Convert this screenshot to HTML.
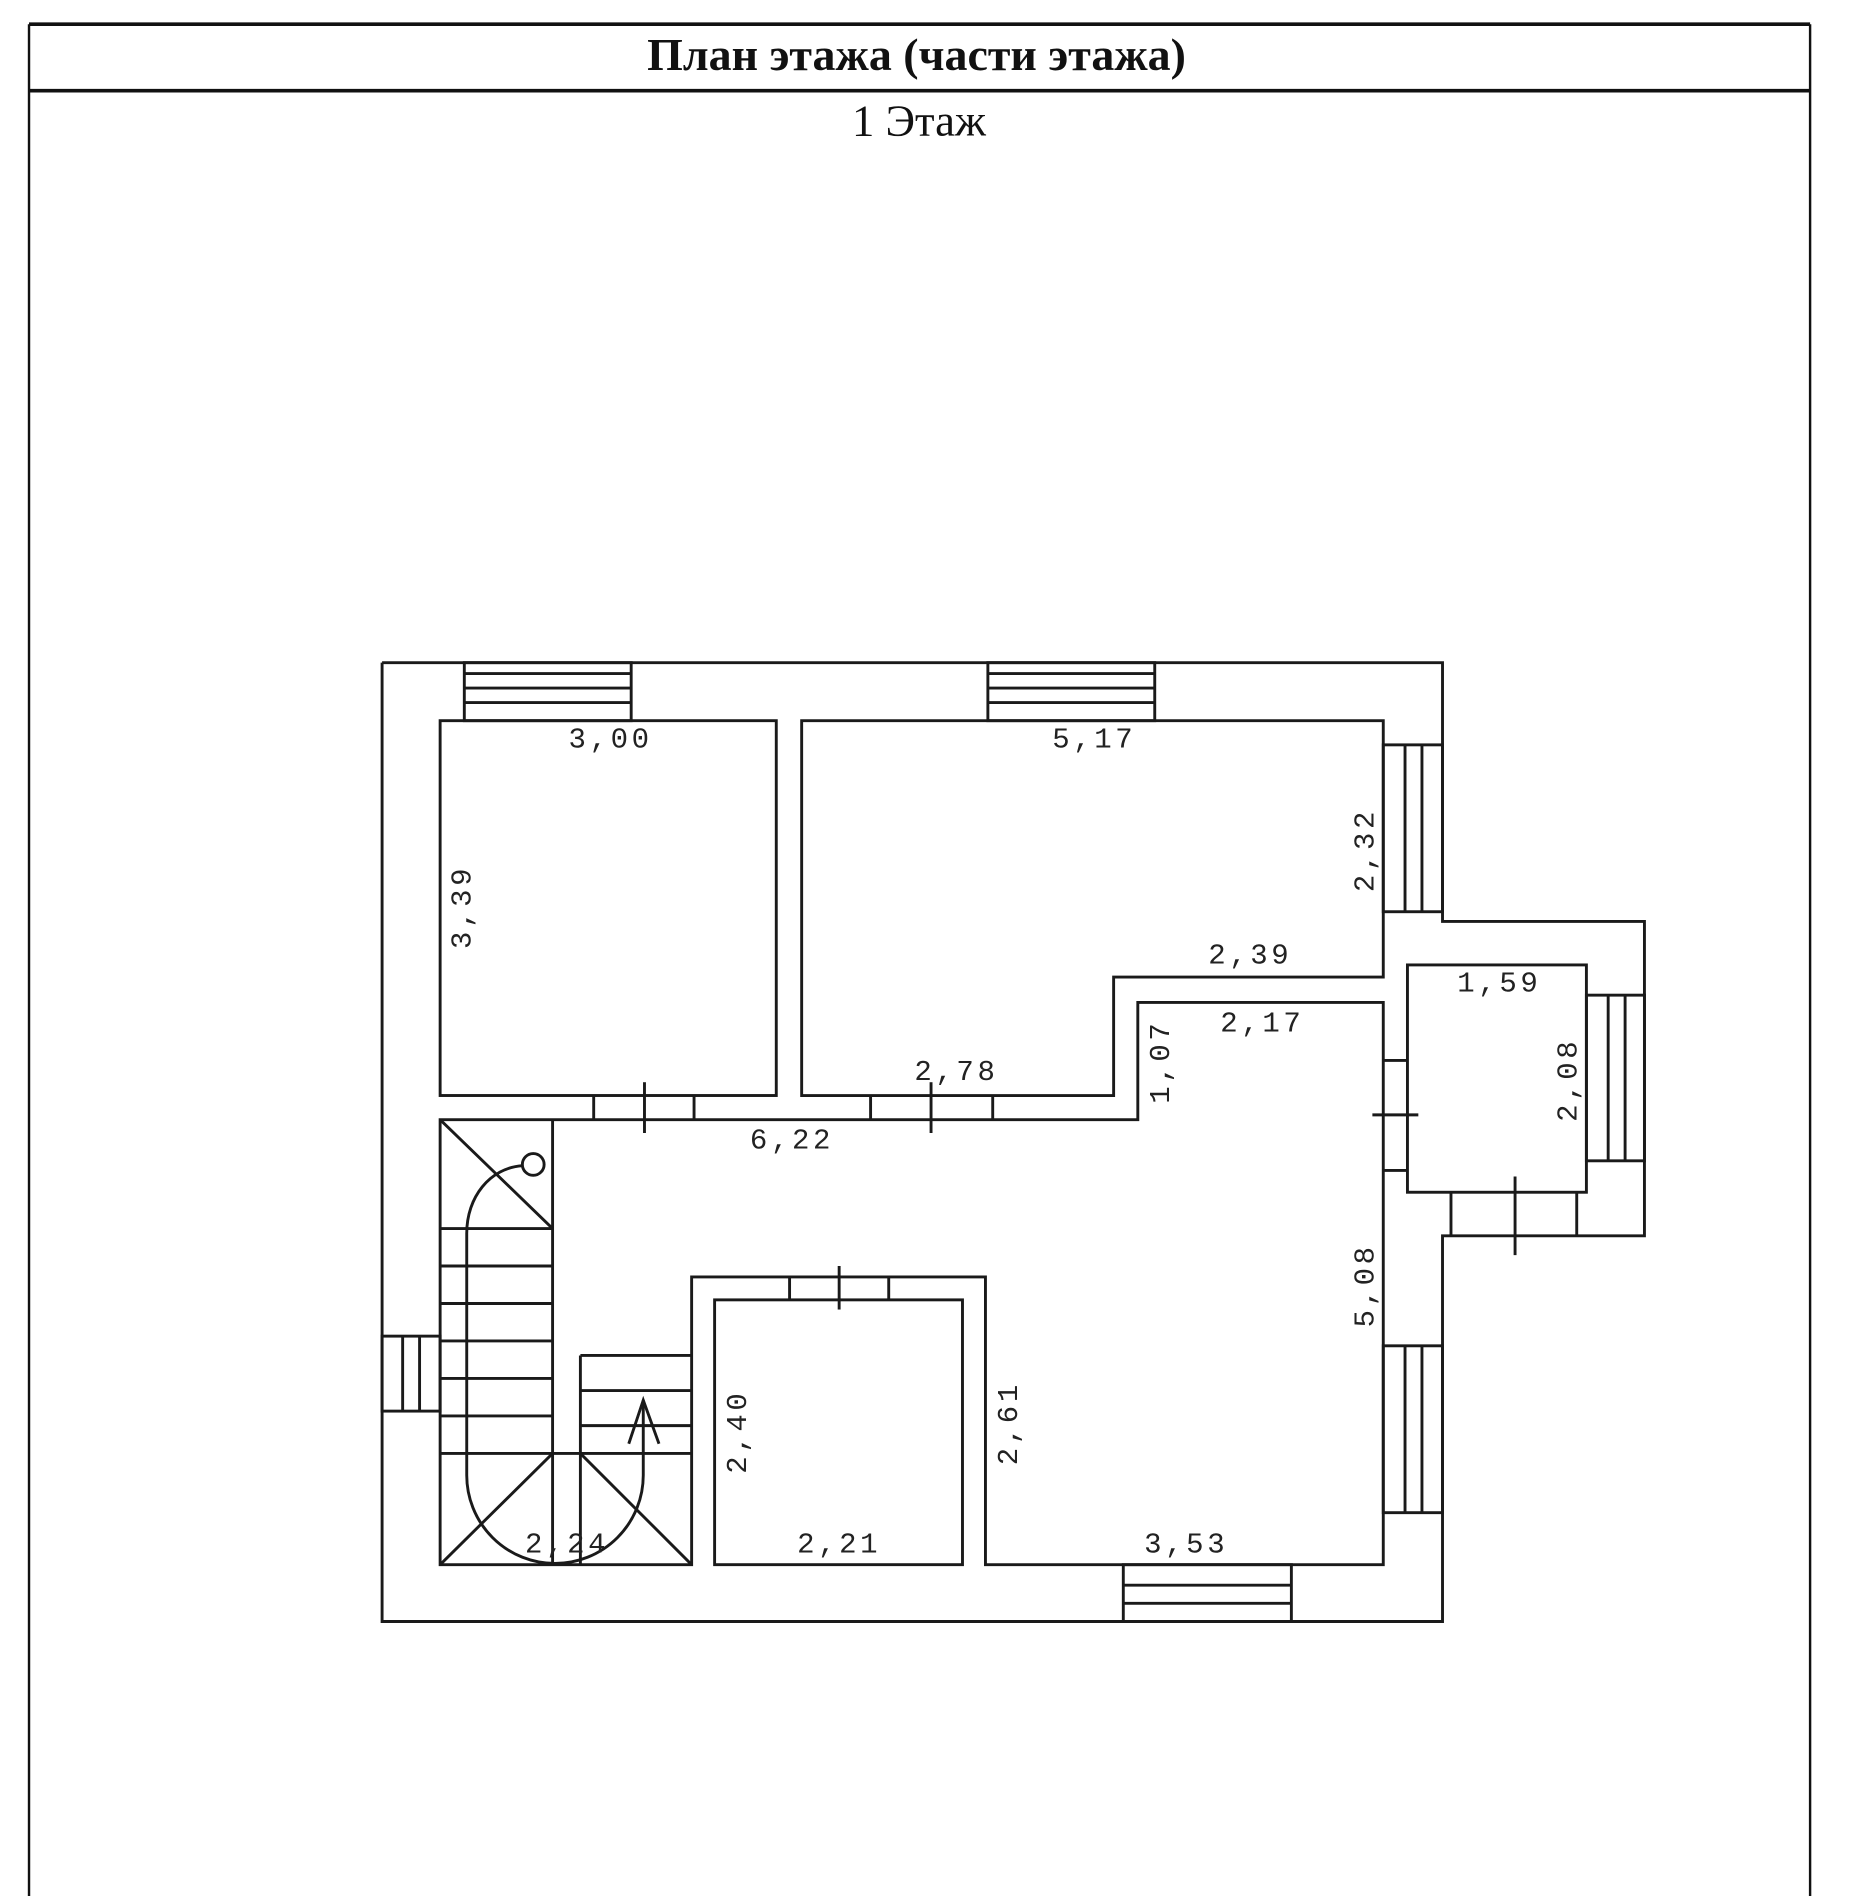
<!DOCTYPE html>
<html><head><meta charset="utf-8"><style>
html,body{margin:0;padding:0;background:#fff;}
svg{display:block;}
.t{font-family:"Liberation Mono",monospace;font-size:24px;fill:#222;letter-spacing:3px;text-anchor:middle;}
</style></head><body>
<svg width="1850" height="1896" viewBox="0 0 1530 1568" xmlns="http://www.w3.org/2000/svg">
<rect width="1530" height="1568" fill="#fff"/>
<g stroke="#111" fill="none">
<line x1="24" y1="20" x2="1497" y2="20" stroke-width="3"/>
<line x1="24" y1="75" x2="1497" y2="75" stroke-width="3"/>
<line x1="24" y1="20" x2="24" y2="1568" stroke-width="2"/>
<line x1="1497" y1="20" x2="1497" y2="1568" stroke-width="2"/>
</g>
<text x="758" y="58" font-family="Liberation Serif,'Noto Serif CJK SC',serif" font-size="38" font-weight="bold" text-anchor="middle" fill="#111">План этажа (части этажа)</text>
<text x="760" y="112" font-family="Liberation Serif,'Noto Serif CJK SC',serif" font-size="37" text-anchor="middle" fill="#111">1 Этаж</text>

<g stroke="#1a1a1a" stroke-width="2.4" fill="none">
<polyline points="316,548 1193,548 1193,762 1360,762 1360,1022 1193,1022 1193,1341 316,1341 316,548"/>
<rect x="364" y="596" width="278" height="310"/>
<polygon points="663,596 1144,596 1144,808 921,808 921,906 663,906"/>
<polygon points="364,926 941,926 941,829 1144,829 1144,1294 815,1294 815,1056 572,1056 572,1294 364,1294"/>
<rect x="591" y="1075" width="205" height="219"/>
<rect x="1164" y="798" width="148" height="188"/>

<rect x="384" y="548" width="138" height="48"/><line x1="384" y1="557" x2="522" y2="557"/><line x1="384" y1="569" x2="522" y2="569"/><line x1="384" y1="581" x2="522" y2="581"/>
<rect x="817" y="548" width="138" height="48"/><line x1="817" y1="557" x2="955" y2="557"/><line x1="817" y1="569" x2="955" y2="569"/><line x1="817" y1="581" x2="955" y2="581"/>
<rect x="1144" y="616" width="49" height="138"/><line x1="1162" y1="616" x2="1162" y2="754"/><line x1="1176" y1="616" x2="1176" y2="754"/>
<rect x="1312" y="823" width="48" height="137"/><line x1="1330" y1="823" x2="1330" y2="960"/><line x1="1344" y1="823" x2="1344" y2="960"/>
<rect x="1144" y="1113" width="49" height="138"/><line x1="1162" y1="1113" x2="1162" y2="1251"/><line x1="1176" y1="1113" x2="1176" y2="1251"/>
<rect x="316" y="1105" width="48" height="62"/><line x1="333" y1="1105" x2="333" y2="1167"/><line x1="347" y1="1105" x2="347" y2="1167"/>
<rect x="929" y="1294" width="139" height="47"/><line x1="929" y1="1311" x2="1068" y2="1311"/><line x1="929" y1="1326" x2="1068" y2="1326"/>

<line x1="491" y1="906" x2="491" y2="926"/><line x1="574" y1="906" x2="574" y2="926"/><line x1="533" y1="895" x2="533" y2="937"/>
<line x1="720" y1="906" x2="720" y2="926"/><line x1="821" y1="906" x2="821" y2="926"/><line x1="770" y1="895" x2="770" y2="937"/>
<line x1="1144" y1="877" x2="1164" y2="877"/><line x1="1144" y1="968" x2="1164" y2="968"/><line x1="1135" y1="922" x2="1173" y2="922"/>
<line x1="1200" y1="986" x2="1200" y2="1022"/><line x1="1304" y1="986" x2="1304" y2="1022"/><line x1="1253" y1="973" x2="1253" y2="1038"/>
<line x1="653" y1="1056" x2="653" y2="1075"/><line x1="735" y1="1056" x2="735" y2="1075"/><line x1="694" y1="1047" x2="694" y2="1083"/>

<line x1="457" y1="926" x2="457" y2="1294"/>
<line x1="364" y1="926" x2="457" y2="1016"/>
<line x1="364" y1="1016" x2="457" y2="1016"/>
<line x1="364" y1="1047" x2="457" y2="1047"/>
<line x1="364" y1="1078" x2="457" y2="1078"/>
<line x1="364" y1="1109" x2="457" y2="1109"/>
<line x1="364" y1="1140" x2="457" y2="1140"/>
<line x1="364" y1="1171" x2="457" y2="1171"/>
<line x1="364" y1="1202" x2="572" y2="1202"/>
<line x1="480" y1="1121" x2="480" y2="1294"/>
<line x1="480" y1="1121" x2="572" y2="1121"/>
<line x1="480" y1="1150" x2="572" y2="1150"/>
<line x1="480" y1="1179" x2="572" y2="1179"/>
<line x1="457" y1="1202" x2="364" y2="1294"/>
<line x1="480" y1="1202" x2="572" y2="1294"/>
<circle cx="441" cy="963" r="9"/>
<path d="M432,964 C405,966 386,990 386,1020 L386,1220 A73,73 0 0 0 532,1220 L532,1158"/>
<polyline points="520,1194 532,1158 545,1194"/>
</g>

<text class="t" x="505" y="618">3,00</text>
<text class="t" x="905" y="618">5,17</text>
<text class="t" x="1034" y="797">2,39</text>
<text class="t" x="1240" y="820">1,59</text>
<text class="t" x="1044" y="853">2,17</text>
<text class="t" x="791" y="893">2,78</text>
<text class="t" x="655" y="950">6,22</text>
<text class="t" x="469" y="1284">2,24</text>
<text class="t" x="694" y="1284">2,21</text>
<text class="t" x="981" y="1284">3,53</text>
<text class="t" transform="translate(389,750) rotate(-90)">3,39</text>
<text class="t" transform="translate(1136,703) rotate(-90)">2,32</text>
<text class="t" transform="translate(967,878) rotate(-90)">1,07</text>
<text class="t" transform="translate(1304,893) rotate(-90)">2,08</text>
<text class="t" transform="translate(1136,1063) rotate(-90)">5,08</text>
<text class="t" transform="translate(841,1177) rotate(-90)">2,61</text>
<text class="t" transform="translate(617,1184) rotate(-90)">2,40</text>
</svg>
</body></html>
